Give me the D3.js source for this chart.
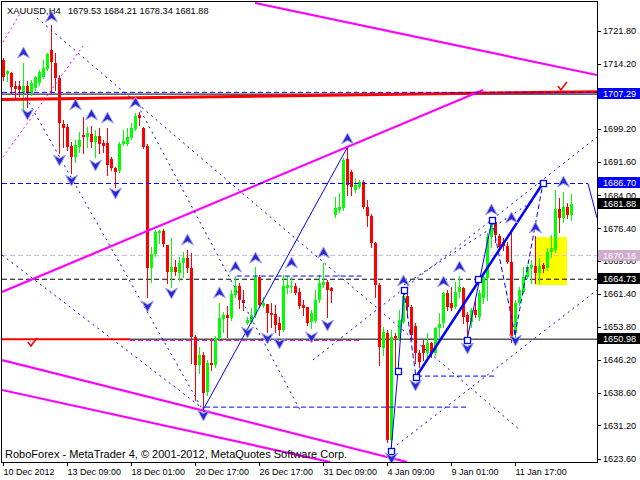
<!DOCTYPE html>
<html><head><meta charset="utf-8">
<script src="https://cdn.jsdelivr.net/npm/d3@7"></script>
<style>body{margin:0;background:#fff}svg{display:block}</style>
</head><body>
<svg id="c" width="640" height="480"></svg>
<script>
// ---- data ----
const symbol = "XAUUSD,H4";
const opens = [1715.03,1711.82,1712.05,1709.06,1709.06,1707.46,1709.06,1707.46,1708.60,1709.75,
1711.13,1712.96,1717.33,1714.34,1710.90,1700.34,1699.65,1695.29,1692.77,1695.06,
1697.82,1697.36,1698.05,1696.21,1697.59,1695.98,1695.98,1692.31,1690.24,1689.56,
1695.75,1695.75,1697.13,1699.19,1702.41,1699.42,1695.29,1667.29,1670.51,1675.33,
1675.79,1672.57,1666.38,1667.52,1666.15,1668.44,1669.59,1667.29,1651.46,1645.03,
1647.33,1638.84,1645.49,1645.03,1651.23,1655.59,1656.51,1655.82,1661.10,1663.16,
1659.95,1654.67,1654.90,1656.51,1665.23,1658.57,1659.03,1656.97,1656.74,1654.67,
1653.07,1662.70,1662.93,1663.16,1661.79,1658.80,1658.34,1654.90,1655.13,1659.95,
1663.39,1664.08,1662.70,1679.46,1680.61,1681.06,1692.31,1689.33,1685.20,1685.88,
1687.03,1681.29,1679.23,1673.03,1663.39,1648.93,1652.38,1627.82,1651.69,1651.23,
1654.90,1660.87,1658.34,1653.98,1647.79,1649.62,1647.79,1650.08,1647.79,1653.53,
1654.67,1661.56,1659.26,1658.34,1661.79,1662.70,1656.51,1654.90,1657.66,1656.05,
1660.41,1665.00,1674.41,1677.85,1674.64,1673.26,1672.34,1668.67,1652.38,1659.26,
1661.79,1665.23,1667.29,1667.75,1666.15,1667.98,1667.29,1670.97,1671.43,1680.83,
1678.77,1681.29,1679.53];
const highs = [1715.49,1712.74,1712.28,1710.21,1710.21,1714.34,1710.21,1710.44,1711.36,1712.74,
1715.03,1716.64,1723.06,1716.64,1711.59,1701.26,1700.34,1696.21,1696.67,1698.51,
1701.95,1699.65,1699.88,1698.97,1699.42,1696.67,1699.42,1692.77,1690.47,1696.21,
1698.97,1699.42,1700.57,1702.87,1703.10,1699.65,1695.75,1672.11,1676.02,1676.02,
1676.24,1672.57,1674.18,1669.13,1669.82,1670.97,1671.43,1670.74,1651.92,1649.16,
1648.02,1646.18,1651.23,1651.69,1659.26,1657.20,1658.57,1662.25,1665.46,1663.85,
1662.25,1656.05,1658.11,1667.52,1665.69,1660.64,1659.03,1659.26,1658.80,1656.05,
1665.69,1665.46,1665.23,1663.85,1662.70,1659.95,1658.34,1657.66,1662.25,1665.69,
1668.44,1664.54,1662.93,1683.59,1684.51,1692.54,1694.84,1689.79,1687.95,1687.49,
1687.49,1682.90,1679.69,1673.26,1663.85,1653.75,1653.07,1653.07,1652.38,1657.66,
1662.25,1661.56,1658.80,1654.67,1648.48,1650.77,1652.38,1650.31,1653.75,1656.97,
1661.79,1662.25,1662.93,1664.08,1665.46,1662.93,1657.20,1658.11,1659.95,1662.25,
1666.15,1675.33,1679.00,1678.31,1675.10,1674.18,1673.26,1675.56,1659.95,1662.93,
1667.52,1667.98,1669.13,1674.64,1669.59,1668.44,1671.88,1674.87,1685.20,1683.36,
1684.74,1682.21,1684.21];
const lows = [1710.44,1710.21,1707.46,1706.31,1706.77,1703.56,1704.24,1707.00,1708.14,1709.29,
1710.90,1712.74,1707.46,1708.14,1693.69,1695.06,1694.38,1689.10,1691.62,1693.92,
1693.69,1695.06,1695.06,1692.77,1693.69,1693.92,1688.64,1689.79,1685.88,1689.33,
1695.52,1695.52,1696.90,1698.97,1700.11,1694.83,1660.64,1664.08,1670.05,1673.03,
1672.34,1663.85,1662.93,1665.69,1664.54,1665.23,1666.38,1645.49,1637.00,1643.20,
1635.39,1638.15,1643.89,1644.57,1650.77,1652.61,1651.46,1655.36,1660.64,1658.11,
1657.66,1654.44,1654.67,1656.05,1658.34,1658.34,1652.61,1653.75,1652.61,1651.92,
1652.84,1661.56,1661.79,1661.33,1658.11,1656.51,1654.21,1653.53,1654.90,1659.49,
1662.93,1656.05,1659.49,1679.00,1680.15,1680.61,1684.05,1684.05,1684.74,1685.65,
1681.06,1676.93,1672.11,1660.64,1645.03,1647.33,1627.36,1625.30,1643.20,1650.77,
1654.67,1656.05,1650.77,1645.49,1644.57,1646.18,1646.64,1646.87,1647.33,1651.46,
1653.75,1657.66,1657.66,1658.11,1660.64,1654.67,1650.77,1653.75,1656.05,1655.36,
1659.26,1659.95,1672.11,1673.26,1671.43,1671.43,1668.44,1650.31,1651.46,1658.80,
1661.56,1665.00,1663.85,1663.85,1663.85,1666.38,1666.84,1669.82,1670.97,1675.56,
1677.85,1678.77,1678.34];
const closes = [1711.13,1712.51,1708.83,1708.37,1708.14,1709.06,1707.46,1709.75,1711.13,1712.28,
1713.19,1716.41,1714.57,1710.90,1700.57,1699.42,1695.06,1692.77,1695.52,1696.67,
1697.36,1698.28,1696.21,1697.59,1695.75,1695.29,1690.93,1690.24,1689.33,1695.75,
1696.44,1697.36,1699.42,1702.18,1701.72,1695.06,1667.29,1670.51,1675.56,1675.79,
1672.80,1666.38,1667.52,1666.38,1668.44,1669.59,1667.29,1651.46,1645.03,1647.33,
1638.61,1645.49,1645.03,1651.23,1655.82,1656.51,1655.82,1661.33,1663.16,1659.95,
1659.26,1655.36,1656.51,1665.23,1658.80,1659.26,1656.97,1656.51,1654.21,1653.07,
1663.16,1663.39,1663.16,1661.56,1658.57,1658.11,1654.67,1656.97,1659.95,1663.85,
1664.08,1662.25,1662.02,1681.06,1681.29,1692.08,1686.34,1685.88,1686.34,1687.03,
1681.29,1679.23,1673.03,1663.39,1649.16,1652.61,1627.82,1651.46,1651.23,1655.36,
1660.87,1658.34,1651.92,1647.79,1645.72,1647.79,1650.08,1647.79,1653.53,1654.44,
1661.56,1658.34,1658.11,1661.79,1662.93,1656.05,1654.90,1657.66,1656.51,1661.56,
1665.23,1674.41,1677.85,1674.87,1672.11,1672.34,1668.67,1651.23,1659.26,1662.25,
1665.23,1667.52,1667.98,1666.15,1667.75,1667.06,1670.97,1671.88,1680.83,1678.77,
1681.29,1679.53,1681.88];

const xTickBars = [0,16,32,48,64,80,96,112,128];
const xTickLabels = ["10 Dec 2012","13 Dec 09:00","18 Dec 01:00","20 Dec 17:00","26 Dec 17:00","31 Dec 09:00","4 Jan 09:00","9 Jan 01:00","11 Jan 17:00"];
const priceTicks = [1721.80,1714.20,1699.20,1691.60,1684.00,1676.40,1669.00,1661.40,1653.80,1646.20,1638.60,1631.20,1623.60];
const priceLabels = [1707.29,1686.70,1681.88,1670.16,1664.73,1650.98];

// drawing objects in (bar index, price) units: [i1,p1,i2,p2]
const magentaLines = [[62.875,1728.11,148.375,1711.59],[-0.375,1661.80,119.875,1708.15],[-0.375,1646.20,100.875,1622.80],[-0.375,1639.32,81.625,1622.80]];
const magentaDotted = [[-0.125,1692.78,19.875,1718.24],[-0.125,1719.16,4.125,1725.59]];
const magentaDashed = [[31.625,1650.67,89.125,1650.67]];
const redThick = [[-0.375,1705.97,148.375,1707.76]];
const redShort = [[-0.375,1650.98,31.625,1650.98]];
const blackSolid = [[-0.375,1707.20,148.375,1707.20],[31.625,1650.98,148.375,1650.98]];
const blackDashed = [[-0.375,1664.73,148.375,1664.73]];
const thistleDashed = [[-0.375,1670.16,148.375,1670.16]];
const blueDashed = [[-0.375,1707.60,148.375,1707.60],[-0.375,1686.70,146.125,1686.70],[58.3,1665.46,89.9,1665.46],[50.4,1635.39,116.1,1635.39],[103.4,1642.51,122.9,1642.51],[100.125,1662.26,103.125,1642.30],[122.125,1678.32,127.875,1651.93],[127.875,1651.93,134.875,1686.81]];
const blueSolid = [[49.875,1634.72,85.875,1694.84],[96.875,1625.32,98.625,1643.68],[98.625,1643.68,100.125,1662.26],[115.875,1650.79,122.125,1678.32],[146.125,1686.70,148.375,1678.78]];
const blueThick = [[103.125,1642.30,134.875,1686.81]];
const blueDotted = [[8.375,1724.67,129.125,1630.14],[4.125,1708.84,50.375,1633.81],[-0.375,1670.29,50.375,1634.72],[32.875,1705.85,74.125,1634.72],[77.375,1646.20,148.375,1697.36],[98.375,1626.70,148.375,1662.26],[100.125,1663.41,130.875,1681.76]];
const waveSquares = [[96.875,1625.32],[98.625,1643.68],[100.125,1662.26],[103.125,1642.30],[118.625,1664.80],[134.875,1686.81],[115.875,1650.79],[122.125,1678.32]];
const upArrows = [[5,1716.64],[12,1724.90],[18,1704.71],[22,1702.41],[26,1701.72],[33,1705.17],[46,1673.73],[54,1661.57],[58,1667.54],[63,1669.60],[72,1668.45],[80,1670.75],[86,1696.91],[100,1664.33],[110,1664.10],[114,1667.54],[122,1680.62],[127,1678.78],[133,1676.49],[140,1687.04]];
const downArrows = [[6,1702.64],[14,1692.09],[17,1687.50],[23,1690.94],[28,1684.52],[36,1658.59],[42,1661.57],[50,1633.58],[61,1652.62],[66,1651.25],[69,1650.10],[77,1651.48],[81,1654.23],[97,1623.71],[103,1640.46],[116,1648.95],[128,1650.79]];
const checkMarks = [[7.1,1650.1],[139.6,1708.84]];
const zoneBox = [132.875,1674.41,140.875,1663.40];

// ---- chart ----
const N = opens.length;
const svg = d3.select("#c");
const x = d3.scaleLinear().domain([-0.375,148.375]).range([2,597]);
const y = d3.scaleLinear().domain([1623.6,1721.8]).range([458.5,30.5]);
const FONT = "'Liberation Sans', Arial, sans-serif";

svg.append("rect").attr("width",640).attr("height",480).attr("fill","#fff");
svg.append("clipPath").attr("id","pc").append("rect").attr("x",2).attr("y",2).attr("width",595).attr("height",460);
const plot = svg.append("g").attr("clip-path","url(#pc)");

// zone rectangle (background)
plot.append("rect").attr("x",x(zoneBox[0])).attr("y",y(zoneBox[1]))
  .attr("width",x(zoneBox[2])-x(zoneBox[0])).attr("height",y(zoneBox[3])-y(zoneBox[1])).attr("fill","#ffff00");

function segs(data, stroke, width, dash){
  plot.append("g").selectAll("line").data(data).join("line")
    .attr("x1",d=>x(d[0])).attr("y1",d=>y(d[1])).attr("x2",d=>x(d[2])).attr("y2",d=>y(d[3]))
    .attr("stroke",stroke).attr("stroke-width",width).attr("stroke-dasharray",dash||null).attr("fill","none");
}
// horizontal levels
segs(thistleDashed,"#d8b8d8",1,"5,3");
segs(blackDashed,"#000",1,"5,3");
segs(blackSolid,"#000",1);

// candles
const idx = d3.range(N);
const up = i => closes[i] >= opens[i];
const col = i => up(i) ? "#00ff00" : "#ff0000";
const cg = plot.append("g");
cg.selectAll("line").data(idx).join("line")
  .attr("x1",i=>x(i)).attr("x2",i=>x(i))
  .attr("y1",i=>Math.round(y(highs[i]))).attr("y2",i=>Math.round(y(lows[i]))+1)
  .attr("stroke",col).attr("stroke-width",1);
cg.selectAll("rect").data(idx).join("rect")
  .attr("x",i=>x(i)-1.5).attr("width",3)
  .attr("y",i=>Math.round(y(Math.max(opens[i],closes[i]))))
  .attr("height",i=>Math.max(1,Math.round(y(Math.min(opens[i],closes[i])))-Math.round(y(Math.max(opens[i],closes[i])))))
  .attr("fill",col);

// trend objects
segs(redThick,"#ff0000",3);
segs(redShort,"#ff0000",2);
segs(magentaDashed,"#ff00ff",1,"5,3");
segs(magentaLines,"#ff00ff",2.2);
segs(magentaDotted,"#ff00ff",1,"2,3");
segs(blueDotted,"#0000ff",1,"2,4");
segs(blueDashed,"#0000ff",1,"5,3");
segs(blueSolid,"#0000ff",1);
segs(blueThick,"#0000ff",2.5);

plot.append("g").selectAll("rect").data(waveSquares).join("rect")
  .attr("x",d=>Math.round(x(d[0]))-3+0.5).attr("y",d=>Math.round(y(d[1]))-3+0.5)
  .attr("width",6).attr("height",6).attr("fill","#fff").attr("stroke","#0000ff").attr("stroke-width",1.3);

// fractal arrows
const ag = plot.append("g");
ag.selectAll("path.u").data(upArrows).join("path").attr("class","u")
  .attr("transform",d=>`translate(${x(d[0])},${y(d[1])})`)
  .attr("d","M0,-6L6,5L0,1.5L-6,5Z").attr("fill","#2a2ad0").attr("stroke","#a4a4f4").attr("stroke-width",1);
ag.selectAll("path.d").data(downArrows).join("path").attr("class","d")
  .attr("transform",d=>`translate(${x(d[0])},${y(d[1])})`)
  .attr("d","M0,6L6,-5L0,-1.5L-6,-5Z").attr("fill","#2a2ad0").attr("stroke","#a4a4f4").attr("stroke-width",1);

// check marks
plot.append("g").selectAll("path").data(checkMarks).join("path")
  .attr("transform",d=>`translate(${x(d[0])},${y(d[1])})`)
  .attr("d","M-4,-1L-1,3L5,-5").attr("fill","none").attr("stroke","#ff0000").attr("stroke-width",1.6);

// texts on chart
svg.append("text").attr("x",7).attr("y",14).attr("font-family",FONT).attr("font-size",9.4).attr("fill","#000").text(symbol);
svg.append("text").attr("x",68).attr("y",14).attr("font-family",FONT).attr("font-size",9.2).attr("fill","#000")
  .text([opens[N-1],highs[N-1],lows[N-1],closes[N-1]].map(v=>v.toFixed(2)).join(" "));
svg.append("text").attr("x",5).attr("y",458).attr("font-family",FONT).attr("font-size",11).attr("fill","#000")
  .text("RoboForex - MetaTrader 4, © 2001-2012, MetaQuotes Software Corp.");

// frame
svg.append("rect").attr("x",1.5).attr("y",1.5).attr("width",596).attr("height",461)
  .attr("fill","none").attr("stroke","#000").attr("stroke-width",1);

// price axis
const ya = svg.append("g");
ya.selectAll("line").data(priceTicks).join("line")
  .attr("x1",598).attr("x2",601).attr("y1",d=>Math.round(y(d))+0.5).attr("y2",d=>Math.round(y(d))+0.5).attr("stroke","#000");
ya.selectAll("text").data(priceTicks).join("text")
  .attr("x",603).attr("y",d=>y(d)+3.3).attr("font-family",FONT).attr("font-size",9.2).attr("fill","#000")
  .text(d=>d.toFixed(2));
const labelFill = ["#0000ff","#0000ff","#000000","#cdaccd","#000000","#000000"];
const lg = svg.append("g");
lg.selectAll("rect").data(priceLabels).join("rect")
  .attr("x",598).attr("y",d=>Math.round(y(d))-6).attr("width",42).attr("height",11)
  .attr("fill",(d,i)=>labelFill[i]);
lg.selectAll("text").data(priceLabels).join("text")
  .attr("x",603).attr("y",d=>Math.round(y(d))+2.5).attr("font-family",FONT).attr("font-size",9.2).attr("fill","#fff")
  .text(d=>d.toFixed(2));

// time axis
const xa = svg.append("g");
xa.selectAll("line").data(xTickBars).join("line")
  .attr("x1",d=>x(d)).attr("x2",d=>x(d)).attr("y1",462).attr("y2",466).attr("stroke","#000");
xa.selectAll("text").data(xTickBars).join("text")
  .attr("x",d=>x(d)).attr("y",475).attr("font-family",FONT).attr("font-size",9).attr("fill","#000")
  .text((d,i)=>xTickLabels[i]);
</script>
</body></html>
